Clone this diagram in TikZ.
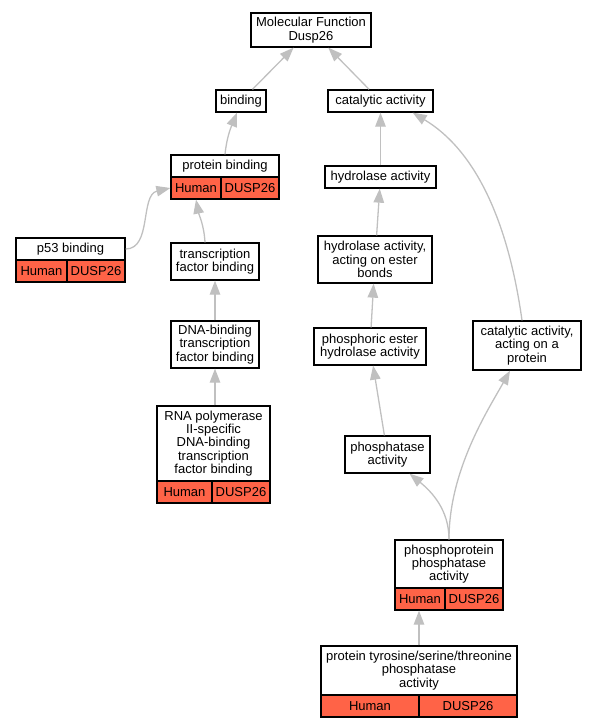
\documentclass[tikz,border=0pt]{standalone}
\usepackage{fontspec}
\setmainfont{Liberation Sans}
\usepackage{tikz}
\usetikzlibrary{arrows.meta,calc}
\definecolor{annot}{HTML}{FF6347}
\definecolor{isagray}{HTML}{C0C0C0}

\begin{document}
\begin{tikzpicture}[x=1pt,y=-1pt,
	every node/.style={font=\fontsize{13pt}{13.3pt}\selectfont, align=center, inner sep=0pt},
	term/.style={draw, line width=1.3pt, fill=white},
	cell/.style={draw, line width=1.3pt, fill=annot, minimum height=22pt},
	isa/.style={draw=isagray, line width=1.3pt, -{Triangle[length=14pt,width=10.5pt]}}]

	\useasboundingbox (0,0) rectangle (596,728);

	% left branch
	\node[term, minimum width=120pt, minimum height=34pt] (mf) at (311,30) {Molecular Function\\Dusp26};
	\node[term, minimum width=50pt, minimum height=22pt] (bind) at (241,101) {binding};
	\node[term, minimum width=108pt, minimum height=22pt] (pb) at (225,166) {protein binding};
	\node[cell, minimum width=50pt] (pbH) at (196,188) {Human};
	\node[cell, minimum width=58pt] (pbD) at (250,188) {DUSP26};
	\node[term, minimum width=109pt, minimum height=22pt] (p53) at (70.5,249) {p53 binding};
	\node[cell, minimum width=51pt] (p53H) at (41.5,271) {Human};
	\node[cell, minimum width=58pt] (p53D) at (96,271) {DUSP26};
	\node[term, minimum width=88pt, minimum height=37pt] (tfb) at (215,261.5) {transcription\\factor binding};
	\node[term, minimum width=88pt, minimum height=47pt] (dna) at (215,344.5) {DNA-binding\\transcription\\factor binding};
	\node[term, minimum width=113pt, minimum height=75pt] (rna) at (213.5,443.5) {RNA polymerase\\II-specific\\DNA-binding\\transcription\\factor binding};
	\node[cell, minimum width=55pt] (rnaH) at (184.5,492) {Human};
	\node[cell, minimum width=58pt] (rnaD) at (241,492) {DUSP26};

	% right branch
	\node[term, minimum width=105pt, minimum height=22pt] (cat) at (380.5,101) {catalytic activity};
	\node[term, minimum width=111pt, minimum height=22pt] (hyd) at (380.5,177) {hydrolase activity};
	\node[term, minimum width=114pt, minimum height=47pt] (hest) at (375,259.5) {hydrolase activity,\\acting on ester\\bonds};
	\node[term, minimum width=112pt, minimum height=37pt] (phest) at (370,346.5) {phosphoric ester\\hydrolase activity};
	\node[term, minimum width=85pt, minimum height=37pt] (phos) at (387.5,454.5) {phosphatase\\activity};
	\node[term, minimum width=108pt, minimum height=49pt] (catp) at (527,345.5) {catalytic activity,\\acting on a\\protein};
	\node[term, minimum width=108pt, minimum height=48pt] (ppp) at (449,564) {phosphoprotein\\phosphatase\\activity};
	\node[cell, minimum width=50pt] (pppH) at (420,599) {Human};
	\node[cell, minimum width=58pt] (pppD) at (474,599) {DUSP26};
	\node[term, minimum width=196pt, minimum height=49pt] (pts) at (419,670.5) {protein tyrosine/serine/threonine\\phosphatase\\activity};
	\node[cell, minimum width=98pt] (ptsH) at (370,706) {Human};
	\node[cell, minimum width=98pt] (ptsD) at (468,706) {DUSP26};

	% is_a edges
	\draw[isa] (bind) -- (mf);
	\draw[isa] (cat) -- (mf);
	\draw[isa] (pb.north) .. controls (227,135) and (232,125) .. ($(bind.south)+(-4,0)$);
	\draw[isa] (p53.east) .. controls (152,249) and (140,195) .. (pbH.west);
	\draw[isa] ($(tfb.north)+(-10,0)$) .. controls (204,225) and (199,215) .. (pbH.south);
	\draw[isa] (dna) -- (tfb);
	\draw[isa] (rna.north -| dna.south) -- (dna.south);
	\draw[isa] (hyd) -- (cat);
	\draw[isa] (hest) -- (hyd);
	\draw[isa] (phest) -- (hest);
	\draw[isa] (phos) -- (phest);
	\draw[isa] (ppp.north) .. controls (449,510) and (432,492) .. ($(phos.south)+(22,0)$);
	\draw[isa] (ppp.north) .. controls (449,470) and (488,410) .. ($(catp.south)+(-17,0)$);
	\draw[isa] ($(catp.north)+(-5,0)$) .. controls (508,220) and (475,150) .. ($(cat.south east)+(-21,0)$);
	\draw[isa] (pts.north) -- (pts.north |- pppH.south);

\end{tikzpicture}
\end{document}
